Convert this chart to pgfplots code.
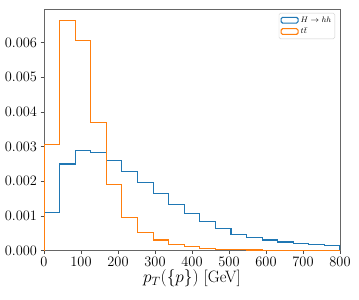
\documentclass[border=0pt]{standalone}
\usepackage{pgfplots}
\pgfplotsset{compat=1.18}
\definecolor{tabblue}{RGB}{31,119,180}
\definecolor{taborange}{RGB}{255,127,14}
\begin{document}
\begin{tikzpicture}
\begin{axis}[
  scale only axis,
  width=296pt, height=241.7pt,
  xmin=0, xmax=800, ymin=0, ymax=0.00697,
  xtick={0,100,...,800},
  ytick={0,0.001,0.002,0.003,0.004,0.005,0.006},
  yticklabel style={/pgf/number format/fixed,/pgf/number format/fixed zerofill,/pgf/number format/precision=3},
  scaled y ticks=false,
  tick pos=left, tick align=outside,
  major tick length=3.5pt,
  tick style={black!70, line width=0.6pt},
  axis line style={black!60, line width=0.8pt},
  ticklabel style={font=\fontsize{14}{16}\selectfont},
  xticklabel style={yshift=1pt},
  xlabel={$p_T(\{p\})$ [GeV]},
  xlabel style={font=\fontsize{16.5}{18}\selectfont, yshift=3pt},
  legend style={at={(1,1)}, anchor=north east, xshift=-5pt, yshift=-4pt,
    draw=black!20, rounded corners=1.5pt, font=\footnotesize, inner sep=1.5pt},
  legend cell align=left,
]
\addplot[area legend, const plot, tabblue, line width=1.1pt] coordinates {
(0,0) (0,0.00110) (42.105,0.00250) (84.211,0.00288) (126.316,0.00283)
(168.421,0.00260) (210.526,0.00228) (252.632,0.00197) (294.737,0.00166)
(336.842,0.00134) (378.947,0.00106) (421.053,0.00084) (463.158,0.00065)
(505.263,0.00048) (547.368,0.00037) (589.474,0.00031) (631.579,0.00025)
(673.684,0.00020) (715.789,0.00017) (757.895,0.00014) (800,0.00014) (800,0)};
\addlegendentry{{$H\rightarrow hh$}}
\addplot[area legend, const plot, taborange, line width=1.1pt] coordinates {
(0,0) (0,0.00307) (42.105,0.00663) (84.211,0.00606) (126.316,0.00369)
(168.421,0.00190) (210.526,0.00096) (252.632,0.00053) (294.737,0.00031)
(336.842,0.000185) (378.947,0.000115) (421.053,0.00007) (463.158,0.00004)
(505.263,0.00003) (547.368,0.00002) (589.474,0.000015) (631.579,0.00001)
(673.684,0.00001) (715.789,0.000005) (757.895,0.000005) (800,0.000005) (800,0)};
\addlegendentry{$t\bar{t}$}
\end{axis}
\pgfresetboundingbox
\path ([xshift=-44pt,yshift=-48.3pt]current axis.south west) rectangle ([xshift=19pt,yshift=9pt]current axis.north east);
\end{tikzpicture}
\end{document}
